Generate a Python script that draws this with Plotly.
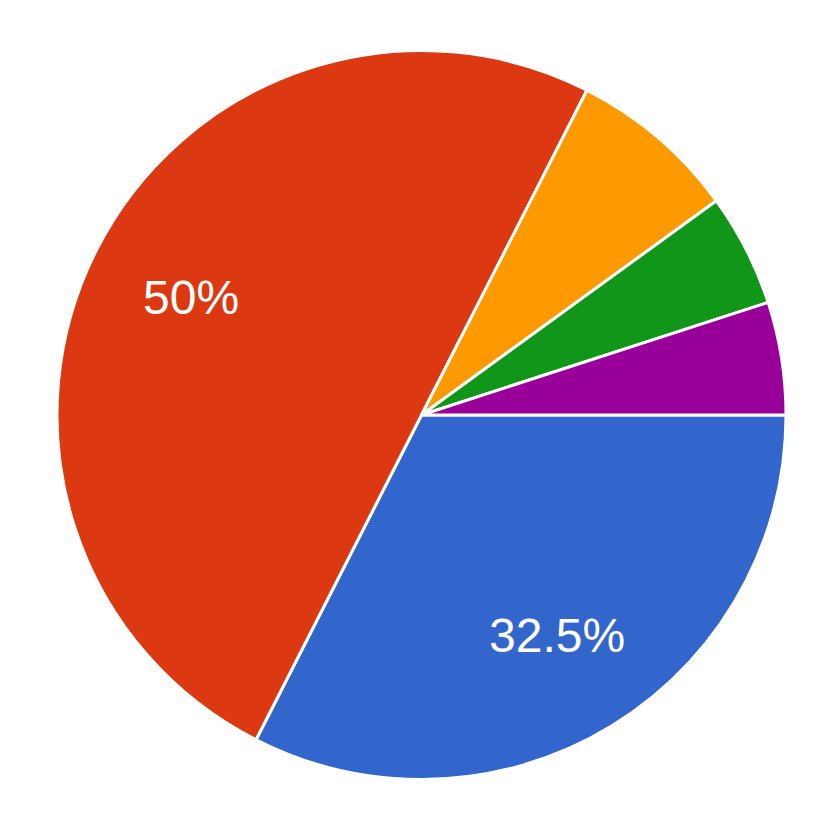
import math
import plotly.graph_objects as go

# respuestas (porcentajes)
labels = ["Opción 1", "Opción 2", "Opción 3", "Opción 4", "Opción 5"]
values = [32.5, 50, 7.5, 5, 5]
slice_text = ["32.5%", "50%", "", "", ""]
colors = ["#3366cc", "#dc3912", "#ff9900", "#109618", "#990099"]

W, H = 837, 824
m = dict(l=49, r=59, t=42, b=52)
pw, ph = W - m["l"] - m["r"], H - m["t"] - m["b"]
R = min(pw, ph) / 2
rot = 90

data = go.Pie(
    labels=labels,
    values=values,
    textinfo="none",
    marker=dict(colors=colors, line=dict(color="white", width=3)),
    sort=False,
    direction="clockwise",
    rotation=rot,
    showlegend=False,
    hoverinfo="label+percent",
)

### etiquetas a ~0.71 del radio, sobre la bisectriz de cada porción
annots = []
total = sum(values)
acc = 0
for v, t in zip(values, slice_text):
    mid = rot + (acc + v / 2) / total * 360
    acc += v
    if not t:
        continue
    a = math.radians(mid)
    annots.append(dict(
        x=0.5 + 0.71 * R * math.sin(a) / pw,
        y=0.5 + 0.71 * R * math.cos(a) / ph,
        xref="paper", yref="paper", xanchor="center", yanchor="middle",
        text=t, showarrow=False,
        font=dict(family="Liberation Sans, Arial", size=48, color="white"),
    ))

layout = go.Layout(
    width=W, height=H,
    margin=m,
    paper_bgcolor="white",
    plot_bgcolor="white",
    annotations=annots,
)

fig = go.Figure(data, layout)
fig.write_html("out.html")
